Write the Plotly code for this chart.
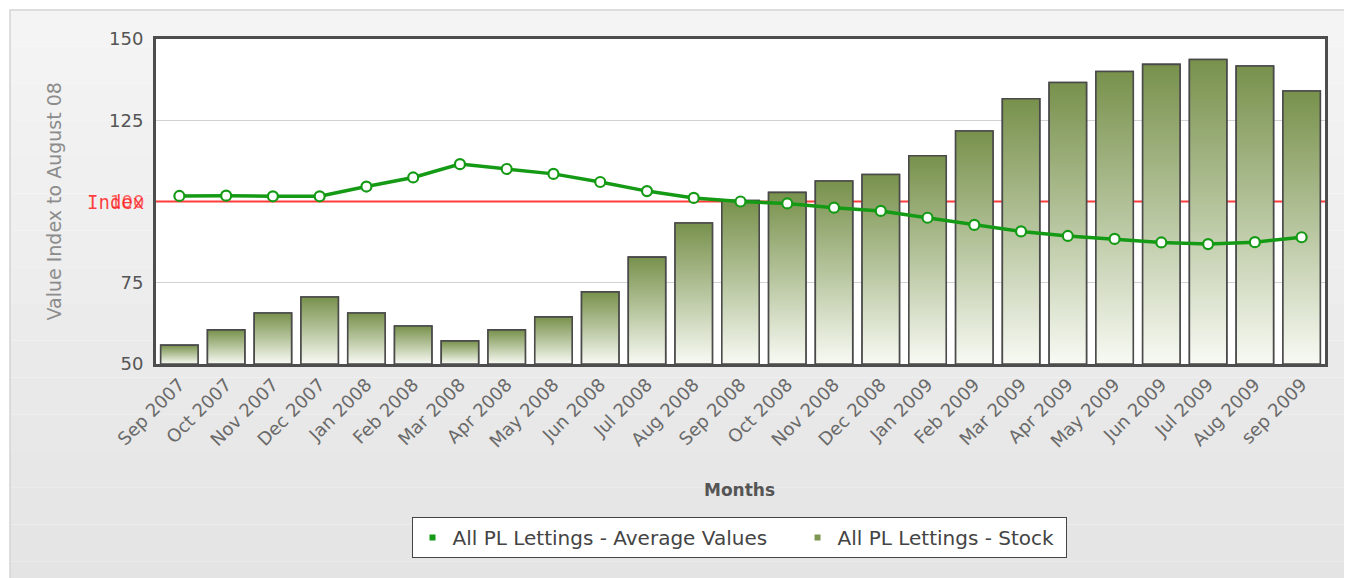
import plotly.graph_objects as go

months = ["Sep 2007", "Oct 2007", "Nov 2007", "Dec 2007", "Jan 2008", "Feb 2008",
          "Mar 2008", "Apr 2008", "May 2008", "Jun 2008", "Jul 2008", "Aug 2008",
          "Sep 2008", "Oct 2008", "Nov 2008", "Dec 2008", "Jan 2009", "Feb 2009",
          "Mar 2009", "Apr 2009", "May 2009", "Jun 2009", "Jul 2009", "Aug 2009",
          "sep 2009"]
stock = [55.8, 60.5, 65.7, 70.6, 65.7, 61.7, 57.1, 60.5, 64.5, 72.2, 82.9, 93.4,
         100.3, 102.8, 106.3, 108.3, 114.1, 121.7, 131.6, 136.6, 140.0, 142.2, 143.7,
         141.7, 134.0]
avg_values = [101.7, 101.8, 101.6, 101.6, 104.6, 107.4, 111.5, 110.0, 108.5, 106.0,
              103.2, 101.1, 100.0, 99.4, 98.1, 97.1, 95.0, 92.8, 90.8, 89.4, 88.5,
              87.4, 86.9, 87.5, 89.0]
index_level = 100
y_min, y_max = 50, 150
y_ticks = [50, 75, 125, 150]
series_names = ["All PL Lettings - Average Values", "All PL Lettings - Stock"]

FONT = "DejaVu Sans"
LINE_GREEN = "#149a14"
BAR_DARK = "#78914c"
BAR_LIGHT = "#f8faf4"
bar_w = 0.8
idx = list(range(len(months)))

# plot area geometry (figure pixels)
W, H = 1344, 570
L, T, R, B = 148, 31, 27, 214
PW, PH = W - L - R, H - T - B


def px_x(p):
    return (p - L) / PW


def px_y(p):
    return 1 - (p - T) / PH


fig = go.Figure()

# underlying bars (covered by gradient fills)
fig.add_trace(go.Bar(
    x=idx, y=[v - y_min for v in stock], base=y_min, width=bar_w,
    marker=dict(color=BAR_DARK, line=dict(color="#4a4a4a", width=1.5)),
    showlegend=False, hoverinfo="skip"))

# gradient fill for each bar
for i, v in enumerate(stock):
    fig.add_trace(go.Scatter(
        x=[i - bar_w / 2, i + bar_w / 2, i + bar_w / 2, i - bar_w / 2, i - bar_w / 2],
        y=[y_min, y_min, v, v, y_min],
        mode="lines", fill="toself",
        fillgradient=dict(type="vertical",
                          colorscale=[[0, BAR_LIGHT], [0.5, "#b7c59e"], [1, BAR_DARK]]),
        line=dict(color="#4a4a4a", width=1.6),
        showlegend=False, hovertemplate=months[i] + ": " + str(v) + "<extra></extra>"))

fig.add_trace(go.Scatter(
    x=idx, y=avg_values, mode="lines+markers",
    line=dict(color=LINE_GREEN, width=3.5),
    marker=dict(size=10, color="white", line=dict(color=LINE_GREEN, width=2.2)),
    showlegend=False, name=series_names[0]))

# legend entries
fig.add_trace(go.Scatter(x=[None], y=[None], mode="markers",
                         marker=dict(symbol="square", size=6, color=LINE_GREEN),
                         name=series_names[0] + "\u00a0" * 4))
fig.add_trace(go.Scatter(x=[None], y=[None], mode="markers",
                         marker=dict(symbol="square", size=6, color="#7d9652"),
                         name=series_names[1] + "\u00a0"))

# panel background bands (gradient look)
shapes = []
n_bands = 16
top_p, bot_p = px_y(2), px_y(H + 20)
left_p, right_p = px_x(2), px_x(W + 20)
for k in range(n_bands):
    t = k / (n_bands - 1)
    c = int(round(244 - t * (244 - 228)))
    y1 = top_p - (top_p - bot_p) * k / n_bands
    y0 = top_p - (top_p - bot_p) * (k + 1) / n_bands
    shapes.append(dict(type="rect", xref="paper", yref="paper", x0=left_p, x1=right_p,
                       y0=y0, y1=y1, fillcolor=f"rgb({c},{c},{c})", line=dict(width=0),
                       layer="below"))
shapes.append(dict(type="rect", xref="paper", yref="paper", x0=left_p, x1=right_p,
                   y0=bot_p, y1=top_p, fillcolor="rgba(0,0,0,0)",
                   line=dict(color="#d4d4d4", width=1.5), layer="below"))
shapes.append(dict(type="rect", xref="paper", yref="paper", x0=0, x1=1, y0=0, y1=1,
                   fillcolor="white", line=dict(width=0), layer="below"))
shapes.append(dict(type="line", xref="paper", yref="y", x0=0, x1=1,
                   y0=index_level, y1=index_level, line=dict(color="#ff3b3b", width=1.8),
                   layer="below"))

annotations = [
    dict(text=str(index_level), xref="paper", yref="y", x=0, y=index_level, xshift=-10,
         xanchor="right", yanchor="middle", showarrow=False,
         font=dict(family=FONT, size=18, color="rgba(255,60,60,0.8)")),
    dict(text="Index", xref="paper", yref="y", x=0, y=index_level, xshift=-10,
         xanchor="right", yanchor="middle", showarrow=False,
         font=dict(family="DejaVu Sans Mono", size=19, color="rgba(255,30,30,0.85)")),
    dict(text="Value Index to August 08", xref="paper", yref="paper",
         x=px_x(45), y=0.5, textangle=-90, showarrow=False,
         xanchor="center", yanchor="middle",
         font=dict(family=FONT, size=19, color="#8c8c8c")),
    dict(text="<b>Months</b>", xref="paper", yref="paper",
         x=px_x(731), y=px_y(482), showarrow=False,
         xanchor="center", yanchor="middle",
         font=dict(family=FONT, size=17, color="#555")),
]

fig.update_layout(
    width=W, height=H,
    margin=dict(l=L, r=R, t=T, b=B),
    paper_bgcolor="white", plot_bgcolor="white",
    shapes=shapes, annotations=annotations,
    showlegend=True,
    legend=dict(orientation="h", x=px_x(731), xanchor="center", y=px_y(509),
                yanchor="top", bgcolor="white", bordercolor="#444", borderwidth=1,
                font=dict(family=FONT, size=20, color="#444"), itemsizing="trace"),
    xaxis=dict(range=[-0.5, len(months) - 0.5], tickvals=idx, ticktext=months,
               tickangle=-45, showgrid=False, zeroline=False,
               showline=True, mirror=True, linecolor="#4d4d4d", linewidth=3,
               tickfont=dict(family=FONT, size=18, color="#6a6a6a")),
    yaxis=dict(range=[y_min, y_max], tickvals=y_ticks, showgrid=True,
               gridcolor="#d2d2d2", gridwidth=1, zeroline=False,
               showline=True, mirror=True, linecolor="#4d4d4d", linewidth=3,
               ticks="", ticklabelstandoff=6,
               tickfont=dict(family=FONT, size=18, color="#555")),
)

fig.write_html("out.html")
